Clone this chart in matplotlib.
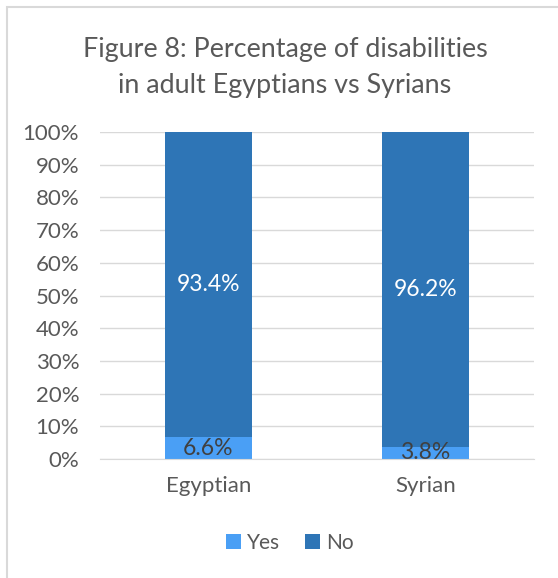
import matplotlib.pyplot as plt
from matplotlib.patches import Rectangle

groups = ['Egyptian', 'Syrian']
yes_pct = [6.6, 3.8]
no_pct = [93.4, 96.2]
yticks = [0, 10, 20, 30, 40, 50, 60, 70, 80, 90, 100]

yes_color = '#4A9FF5'
no_color = '#2E75B6'
text_gray = '#595959'

plt.rcParams['font.family'] = ['Lato', 'DejaVu Sans']

fig = plt.figure(figsize=(5.58, 5.78), dpi=100)
ax = fig.add_axes([100 / 558, 1 - 459 / 578, 434 / 558, 327 / 578])

# outer frame of the chart
fig.patches.append(Rectangle((6.5 / 558, -0.1), 1.2, 1 - 7 / 578 + 0.1,
                             transform=fig.transFigure, fill=False,
                             edgecolor='#D9D9D9', linewidth=1.5))

x = range(len(groups))
b1 = ax.bar(x, yes_pct, width=0.4, color=yes_color, label='Yes', zorder=3)
b2 = ax.bar(x, no_pct, width=0.4, bottom=yes_pct, color=no_color, label='No', zorder=3)

for i in x:
    ax.text(i, yes_pct[i] / 2, f'{yes_pct[i]}%', ha='center', va='center',
            fontsize=16.5, color='#404040', zorder=4)
    ax.text(i, yes_pct[i] + no_pct[i] / 2, f'{no_pct[i]}%', ha='center', va='center',
            fontsize=16.5, color='white', zorder=4)

ax.set_xlim(-0.5, 1.5)
ax.set_ylim(0, 100)
ax.set_yticks(yticks)
ax.set_yticklabels([f'{t}%' for t in yticks])
ax.set_xticks(list(x))
ax.set_xticklabels(groups)
ax.grid(axis='y', color='#D9D9D9', linewidth=1, zorder=0)
for s in ['top', 'right', 'left']:
    ax.spines[s].set_visible(False)
ax.spines['bottom'].set_color('#D9D9D9')
ax.spines['bottom'].set_zorder(5)
ax.tick_params(axis='both', length=0, labelsize=16, colors=text_gray)
ax.tick_params(axis='y', pad=15)
ax.tick_params(axis='x', pad=12)

fig.text(285 / 558, 1 - 67.5 / 578, 'Figure 8: Percentage of disabilities\nin adult Egyptians vs Syrians',
         ha='center', va='center', fontsize=19.4, color=text_gray, linespacing=1.5)

fig.legend(handles=[b1, b2], loc='center', bbox_to_anchor=(290 / 558, 1 - 543 / 578),
           ncol=2, frameon=False, fontsize=15, labelcolor=text_gray,
           handlelength=0.7, handleheight=0.7, handletextpad=0.3, columnspacing=1.2)

fig.savefig('out.png', dpi=100, facecolor='white')
